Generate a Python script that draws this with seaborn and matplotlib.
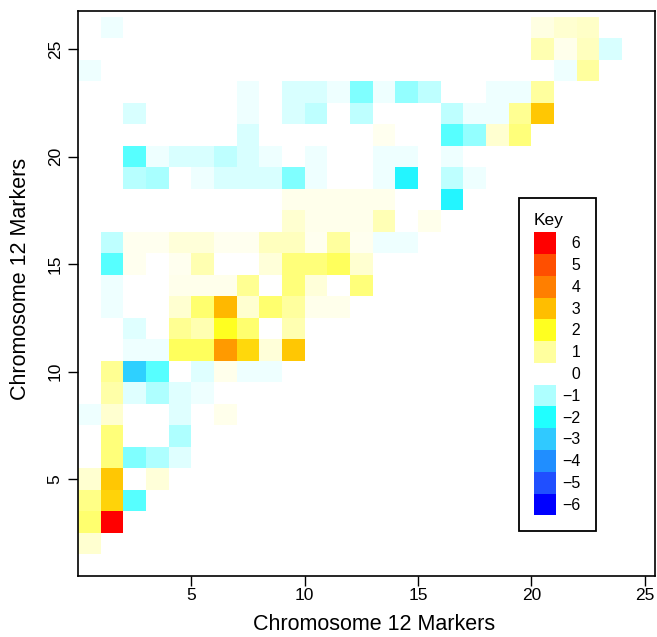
import pandas as pd
import numpy as np
import matplotlib
matplotlib.use('Agg')
import matplotlib.pyplot as plt
import seaborn as sns
from matplotlib.colors import LinearSegmentedColormap, Normalize
from matplotlib.patches import Patch

# marker pairs (x marker, y marker) and their score, read row by row (bottom to top)
marker_x = [1,
            1, 2,
            1, 2, 3,
            1, 2, 4,
            2, 3, 4, 5,
            2, 5,
            1, 2, 5, 7,
            2, 3, 4, 5, 6,
            2, 3, 4, 6, 7, 8, 9,
            3, 4, 5, 6, 7, 8, 9, 10,
            3, 5, 6, 7, 8, 10,
            2, 5, 6, 7, 8, 9, 10, 11, 12,
            2, 5, 6, 7, 8, 10, 11, 13,
            2, 3, 5, 6, 9, 10, 11, 12, 13,
            2, 3, 4, 5, 6, 7, 8, 9, 10, 11, 12, 13, 14, 15,
            10, 11, 12, 13, 14, 16,
            10, 11, 12, 13, 14, 17,
            3, 4, 6, 7, 8, 9, 10, 11, 14, 15, 17, 18,
            3, 4, 5, 6, 7, 8, 9, 11, 14, 15, 17,
            8, 14, 17, 18, 19, 20,
            3, 8, 10, 11, 13, 17, 18, 19, 20, 21,
            8, 10, 11, 12, 13, 14, 15, 16, 19, 20, 21,
            1, 22, 23,
            21, 22, 23, 24,
            2, 21, 22, 23]
marker_y = [2,
            3, 3,
            4, 4, 4,
            5, 5, 5,
            6, 6, 6, 6,
            7, 7,
            8, 8, 8, 8,
            9, 9, 9, 9, 9,
            10, 10, 10, 10, 10, 10, 10,
            11, 11, 11, 11, 11, 11, 11, 11,
            12, 12, 12, 12, 12, 12,
            13, 13, 13, 13, 13, 13, 13, 13, 13,
            14, 14, 14, 14, 14, 14, 14, 14,
            15, 15, 15, 15, 15, 15, 15, 15, 15,
            16, 16, 16, 16, 16, 16, 16, 16, 16, 16, 16, 16, 16, 16,
            17, 17, 17, 17, 17, 17,
            18, 18, 18, 18, 18, 18,
            19, 19, 19, 19, 19, 19, 19, 19, 19, 19, 19, 19,
            20, 20, 20, 20, 20, 20, 20, 20, 20, 20, 20,
            21, 21, 21, 21, 21, 21,
            22, 22, 22, 22, 22, 22, 22, 22, 22, 22,
            23, 23, 23, 23, 23, 23, 23, 23, 23, 23, 23,
            24, 24, 24,
            25, 25, 25, 25,
            26, 26, 26, 26]
score = [0.5,
         1.4, 6.0,
         1.2, 2.7, -1.6,
         0.5, 2.9, 0.4,
         1.3, -1.35, -1.0, -0.4,
         1.3, -1.0,
         -0.2, 0.5, -0.4, 0.2,
         0.9, -0.4, -1.0, -0.4, -0.2,
         1.1, -2.85, -1.6, -0.4, 0.2, -0.2, -0.2,
         -0.2, -0.2, 1.5, 1.5, 3.6, 2.6, 0.4, 2.9,
         -0.4, 1.1, 0.8, 2.0, 1.4, 0.8,
         -0.2, 0.5, 1.4, 3.1, 0.5, 1.4, 1.0, 0.2, 0.2,
         -0.2, 0.2, 0.2, 0.2, 1.1, 1.3, 0.4, 1.3,
         -1.6, 0.15, 0.15, 0.8, 0.4, 1.3, 1.3, 1.5, 0.5,
         -0.8, 0.15, 0.15, 0.4, 0.4, 0.15, 0.15, 0.7, 0.7, 0.15, 1.0, 0.15, -0.2, -0.2,
         0.5, 0.2, 0.2, 0.2, 0.75, 0.2,
         0.2, 0.2, 0.2, 0.2, 0.2, -2.2,
         -0.9, -1.05, -0.2, -0.5, -0.5, -0.5, -1.35, -0.2, -0.2, -2.2, -0.8, -0.2,
         -1.6, -0.2, -0.5, -0.5, -0.8, -0.5, -0.2, -0.2, -0.2, -0.2, -0.2,
         -0.5, 0.15, -1.6, -1.2, 0.5, 1.3,
         -0.5, -0.2, -0.5, -0.8, -0.8, -0.8, -0.2, -0.2, 1.1, 2.9,
         -0.2, -0.5, -0.5, -0.2, -1.35, -0.2, -1.2, -0.8, -0.2, -0.2, 1.0,
         -0.2, -0.2, 1.0,
         0.8, 0.2, 0.7, -0.5,
         -0.2, 0.3, 0.5, 0.6]

x_markers = list(range(1, 26))
y_markers = list(range(2, 27))
ticks = [5, 10, 15, 20, 25]

key_levels = [6, 5, 4, 3, 2, 1, 0, -1, -2, -3, -4, -5, -6]
key_colors = ['#0000FF', '#2050FF', '#2090FF', '#30C8FF', '#20FFFF', '#B0FFFF', '#FFFFFF',
              '#FFFFA0', '#FFFF20', '#FFC000', '#FF8000', '#FF5000', '#FF0000']

sns.set_style('ticks')
plt.rcParams['font.family'] = ['Liberation Sans', 'DejaVu Sans']
plt.rcParams['text.color'] = 'black'
plt.rcParams['axes.labelcolor'] = 'black'
plt.rcParams['xtick.color'] = 'black'
plt.rcParams['ytick.color'] = 'black'

cmap = LinearSegmentedColormap.from_list('key', key_colors)
norm = Normalize(vmin=-6, vmax=6)

df = pd.DataFrame({'x': marker_x, 'y': marker_y, 'score': score})
grid = df.pivot(index='y', columns='x', values='score').reindex(index=y_markers, columns=x_markers)

fig = plt.figure(figsize=(6.57, 6.37), dpi=100)
ax = fig.add_axes([0.1187, 0.0958, 0.878, 0.887])
sns.heatmap(grid, ax=ax, cmap=cmap, vmin=-6, vmax=6, cbar=False, linewidths=0)

# heatmap rows sit at [k, k+1]; marker y is centred on its row
y_shift = y_markers[0] - 0.5
ax.set_xlim(0, 25.45)
ax.set_ylim(0.49 - y_shift, 26.77 - y_shift)
ax.set_xticks(ticks)
ax.set_xticklabels([str(t) for t in ticks], rotation=0)
ax.set_yticks([t - y_shift for t in ticks])
ax.set_yticklabels([str(t) for t in ticks], rotation=90, va='center')
ax.tick_params(direction='out', length=7, width=1, labelsize=12.5, pad=2,
               color='black', labelcolor='black')
ax.tick_params(axis='y', pad=4)
for s in ax.spines.values():
    s.set_visible(True)
    s.set_color('black')
    s.set_linewidth(1.2)

ax.set_xlabel('Chromosome 12 Markers', fontsize=15.5, color='black')
ax.set_ylabel('Chromosome 12 Markers', fontsize=15.5, color='black')
ax.xaxis.set_label_coords(0.514, -0.068)
ax.yaxis.set_label_coords(-0.082, 0.526)

handles = []
labels = []
for lv in key_levels:
    if lv == 0:
        handles.append(Patch(facecolor='white', edgecolor='none'))
    else:
        handles.append(Patch(facecolor=cmap(norm(lv)), edgecolor='none'))
    labels.append(('\u2212' + str(-lv)) if lv < 0 else ('\u2007' + str(lv)))

leg = ax.legend(handles, labels, title='Key', loc='upper left', bbox_to_anchor=(0.764, 0.669),
                borderaxespad=0, fontsize=11.5, title_fontsize=12.5, frameon=True, fancybox=False,
                labelspacing=0, handlelength=1.4, handleheight=1.72, handletextpad=0.4,
                borderpad=0.95, alignment='left')
leg._legend_box.sep = 3
leg.get_frame().set_edgecolor('black')
leg.get_frame().set_linewidth(1.3)
leg.get_frame().set_alpha(1)

plt.savefig('out.png', dpi=100)
